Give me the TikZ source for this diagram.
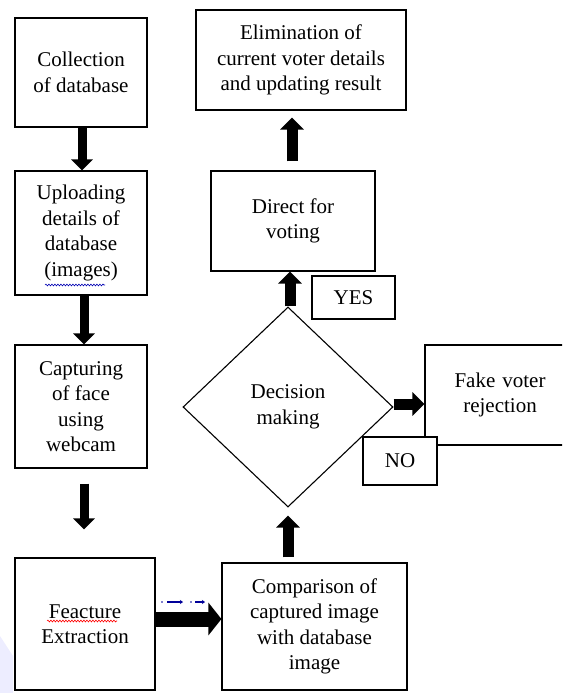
\documentclass[tikz,border=0pt]{standalone}
\usepackage{fontspec}
\setmainfont{Liberation Serif}
\newfontfamily\lserif{Liberation Serif}
\usetikzlibrary{arrows.meta,shapes.geometric,decorations.pathmorphing}
\begin{document}
\begin{tikzpicture}[x=1pt,y=-1pt,
  box/.style={draw,line width=1.1pt,inner sep=0pt,align=center,
    font=\lserif\fontsize{21}{25.5}\selectfont},
  lbox/.style={box,fill=white},
  varrow/.style={line width=9pt,-{Triangle[width=21pt,length=11pt]}},
  uarrow/.style={line width=11pt,-{Triangle[width=23pt,length=12pt]}},
  harrow/.style={line width=15pt,-{Triangle[width=32pt,length=13pt]}},
  wavy/.style={decorate,decoration={snake,amplitude=0.9pt,segment length=3pt},line width=0.6pt},
  bluemark/.style={draw=blue!60!black,line width=1.1pt,-{Stealth[length=3pt,width=4pt]}}
]
\useasboundingbox (0,0) rectangle (562,693);
\clip (0,0) rectangle (562,693);
\fill[blue!7] (0,636) -- (13,656) -- (13,693) -- (0,693) -- cycle;

% left column
\node[box,minimum width=132pt,minimum height=109pt] (b1) at (81,72.5) {Collection\\of database};
\node[box,minimum width=132pt,minimum height=124pt] (b2) at (81,233) {Uploading\\details of\\database\\(images)};
\node[box,minimum width=132pt,minimum height=123pt] (b3) at (81,406.5) {Capturing\\of face\\using\\webcam};
\node[box,minimum width=140pt,minimum height=132pt] (b4) at (85,624) {Feacture\\Extraction};
% right part
\node[box,minimum width=185pt,minimum height=127pt] (b5) at (314.5,626.5) {Comparison of\\captured image\\with database\\image};
\node[box,shape=diamond,minimum width=210pt,minimum height=200pt] (dm) at (288,407) {Decision\\making};
\node[box,minimum width=164pt,minimum height=100pt] (dv) at (293,221) {Direct for\\voting};
\node[box,minimum width=210pt,minimum height=100pt] (el) at (301,60) {Elimination of\\current voter details\\and updating result};
\node[box,minimum width=83pt,minimum height=43pt] (yes) at (353.5,297.5) {YES};
\node[box,minimum width=150pt,minimum height=100pt,text width=135pt] (fk) at (500,395) {Fake voter\\rejection};
\node[lbox,minimum width=74pt,minimum height=48pt] (no) at (400,461) {NO};

% arrows
\draw[varrow] ([xshift=1pt]b1.south) -- ([xshift=1pt]b2.north);
\draw[varrow] ([xshift=3pt]b2.south) -- ([xshift=3pt]b3.north);
\draw[varrow,shorten <=15pt,shorten >=28pt] ([xshift=3pt]b3.south) -- ([xshift=3pt]b3.south |- b4.north);
\coordinate (h) at (0,619);
\draw[harrow] (b4.east |- h) -- (b5.west |- h);
\draw[uarrow,shorten <=5pt,shorten >=8pt] (dm.south |- b5.north) -- (dm.south);
\draw[uarrow] ([xshift=2pt]dm.north) -- ([xshift=2pt]dm.north |- dv.south);
\draw[uarrow,shorten <=9pt,shorten >=7pt] ([xshift=-1pt]dv.north) -- ([xshift=-1pt]dv.north |- el.south);
\draw[uarrow] ([yshift=3pt]dm.east) -- ([yshift=3pt]fk.west |- dm.east);

% spell-check marks
\draw[wavy,red] (47,621) -- (117,621);
\draw[wavy,blue!70!black] (45,285) -- (105,285);
\fill[blue!60!black] (162,602) circle (0.9);
\draw[bluemark] (167,602) -- (183,602);
\fill[blue!60!black] (191,602) circle (0.9);
\draw[bluemark] (195,602) -- (205,602);
\end{tikzpicture}
\end{document}
